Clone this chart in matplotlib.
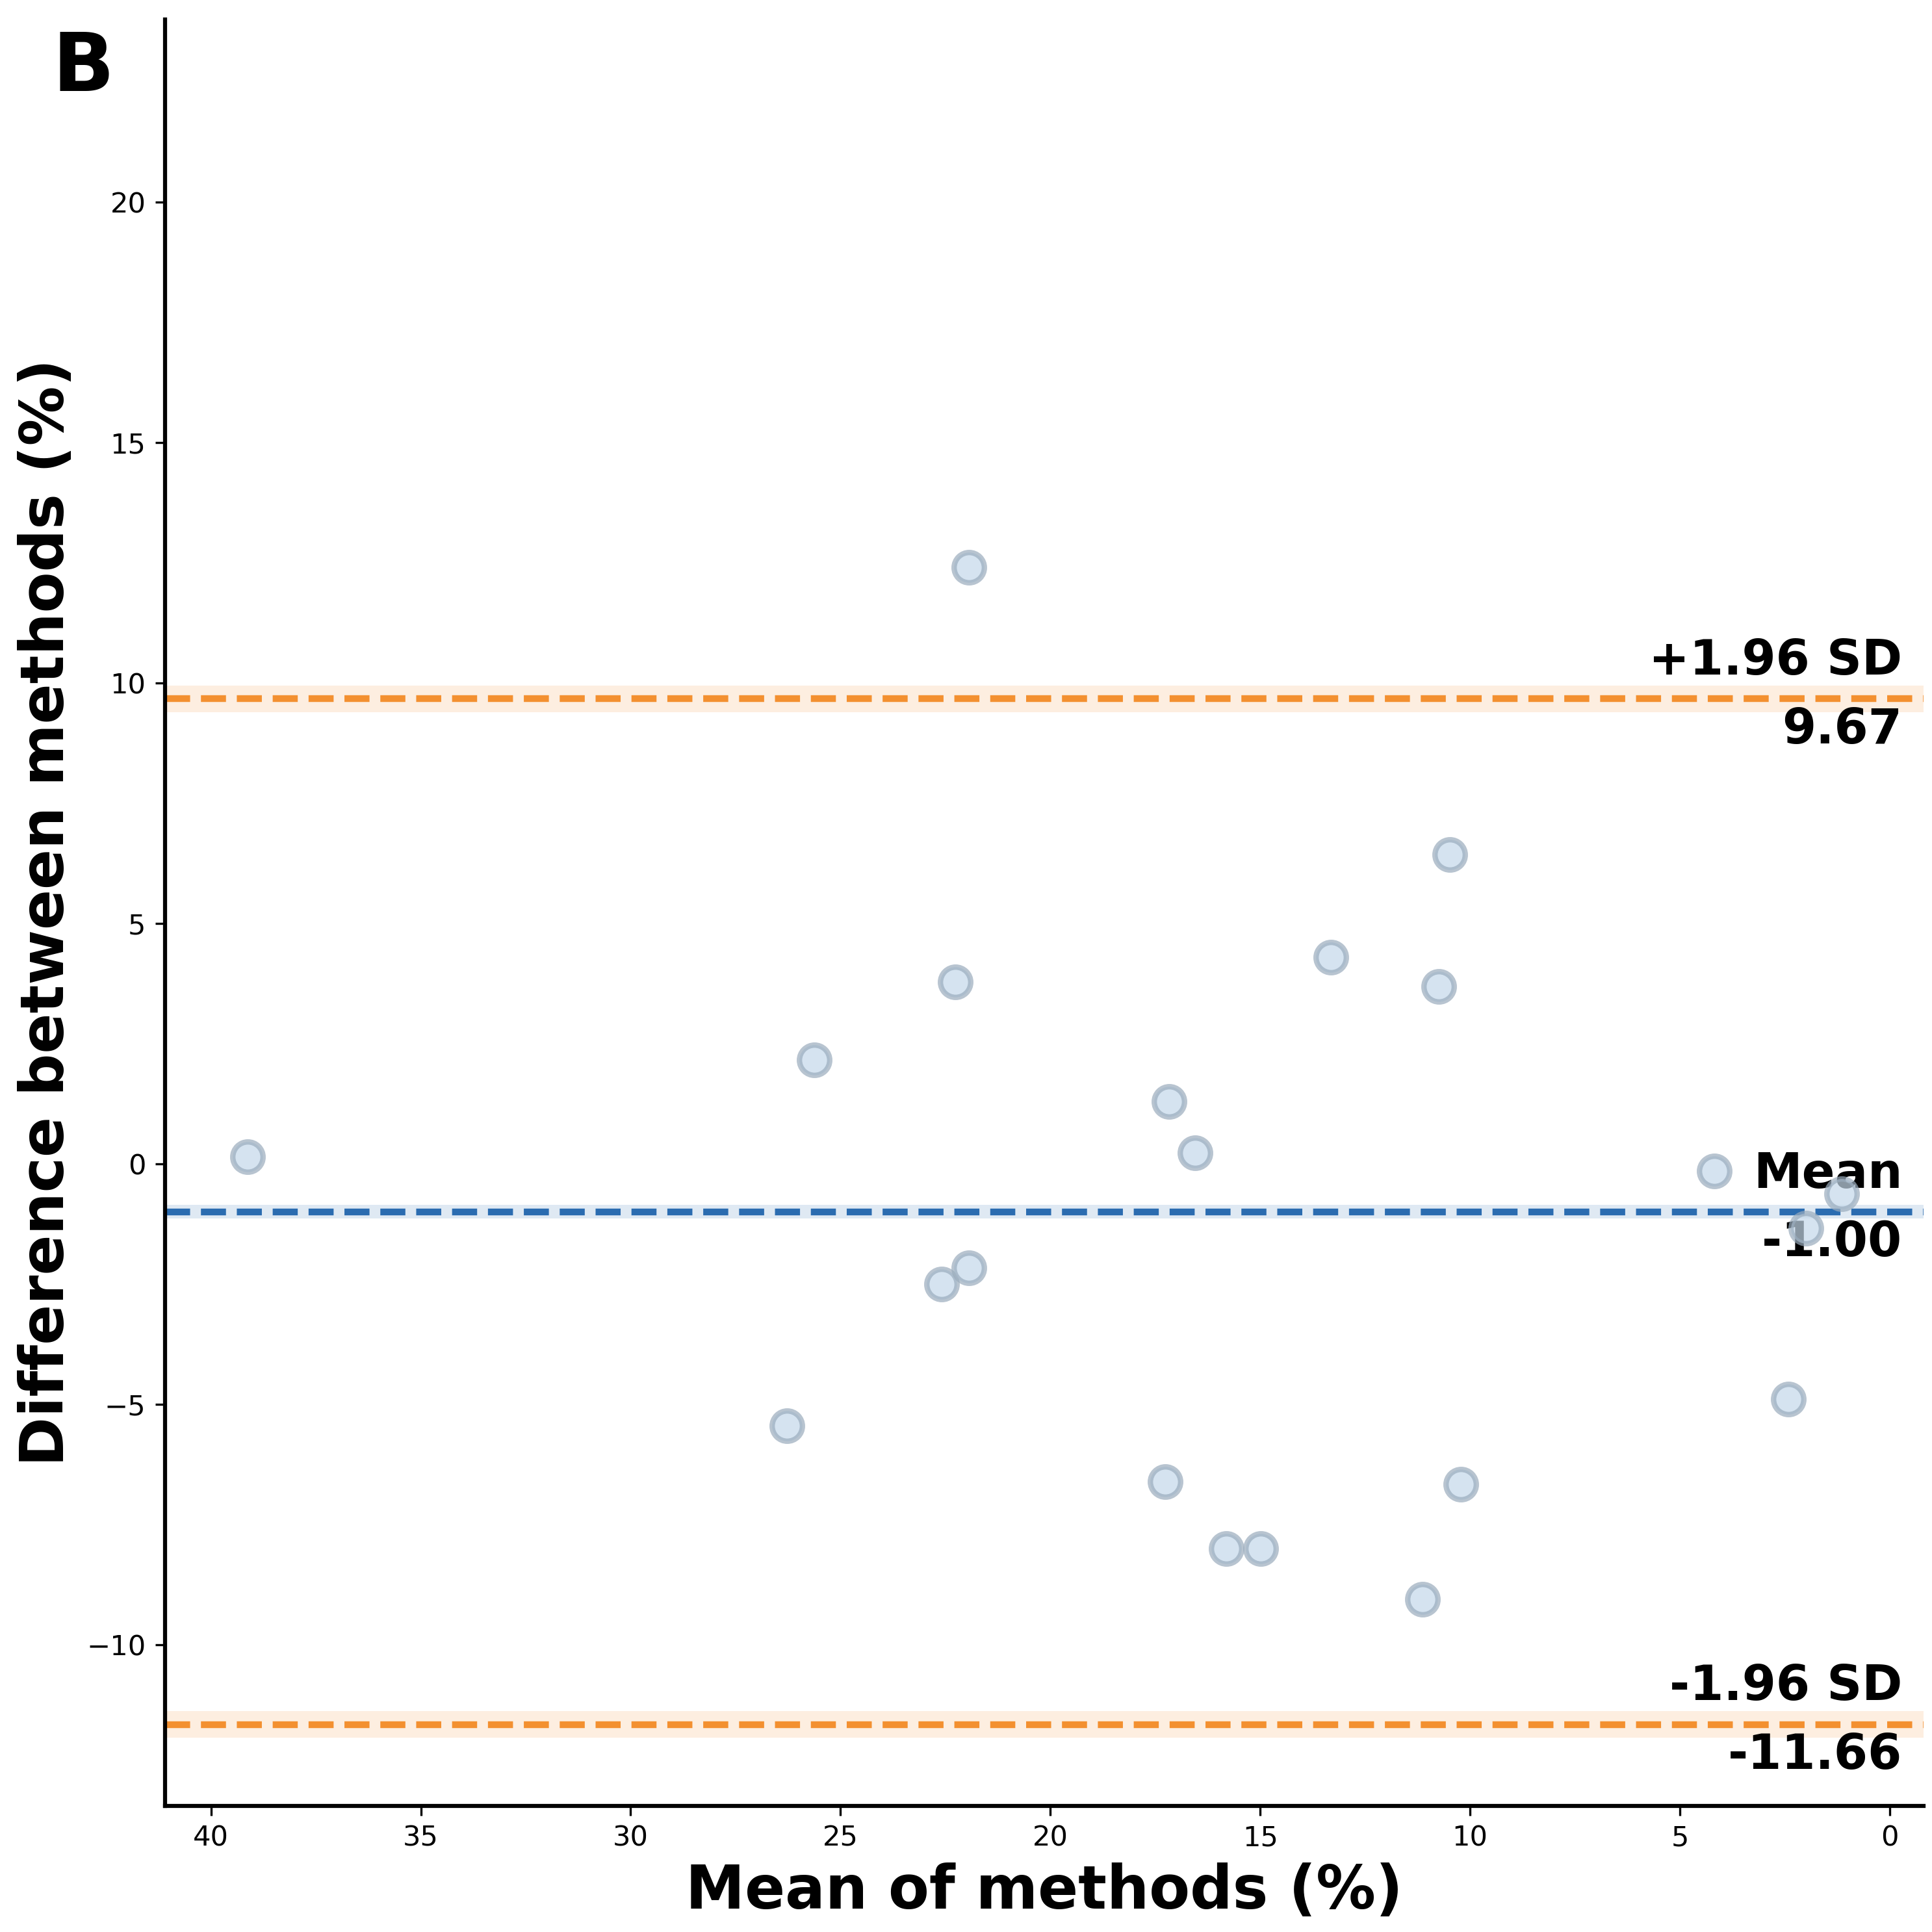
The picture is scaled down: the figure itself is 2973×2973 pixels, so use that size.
import numpy as np
import matplotlib
matplotlib.use('Agg')
import matplotlib.pyplot as plt
import matplotlib.transforms as mtransforms

# Bland-Altman data
mean_of_methods = [39.13, 25.62, 26.27, 21.94, 22.26, 22.59, 21.94, 17.17, 16.55,
                   17.26, 15.81, 14.99, 13.31, 10.48, 10.75, 10.22, 11.13, 4.18,
                   2.41, 2.00, 1.15]
diff_of_methods = [0.15, 2.16, -5.45, 12.40, 3.78, -2.50, -2.16, 1.29, 0.23,
                   -6.61, -8.00, -8.00, 4.30, 6.43, 3.68, -6.66, -9.06, -0.15,
                   -4.89, -1.34, -0.62]

# reference lines (value shown on the chart) and half-width of their shaded CI band
line_names = ['+1.96 SD', 'Mean', '-1.96 SD']
line_values = [9.67, -1.00, -11.66]
line_ci = [0.28, 0.14, 0.28]
line_colors = ['#f39030', '#2b6cb0', '#f39030']

fig = plt.figure(figsize=(2973 / 300, 2973 / 300), dpi=300)
ax = fig.add_axes([0.0853, 0.0654, 0.9102, 0.9246])

trans = mtransforms.blended_transform_factory(ax.transAxes, ax.transData)
for name, val, ci, col in zip(line_names, line_values, line_ci, line_colors):
    ax.axhspan(val - ci, val + ci, color=col, alpha=0.15, lw=0, zorder=1)
    ax.axhline(val, color=col, lw=2.5, ls='--', zorder=2)

    ax.annotate(name, xy=(0.988, val), xycoords=trans, xytext=(0, 8.9),
                textcoords='offset points', ha='right', va='baseline',
                fontsize=18, fontweight='bold', zorder=3)
    ax.annotate('%.2f' % val, xy=(0.988, val), xycoords=trans, xytext=(0, -16.4),
                textcoords='offset points', ha='right', va='baseline',
                fontsize=18, fontweight='bold', zorder=3)

ax.scatter(mean_of_methods, diff_of_methods, s=125, facecolor='#c4d8ea',
           edgecolor='#9aacbd', linewidths=2.0, alpha=0.7, zorder=4)

ax.set_xlim(41.1, -0.8)
ax.set_ylim(-13.35, 23.8)
ax.set_xticks([40, 35, 30, 25, 20, 15, 10, 5, 0])
ax.set_yticks([-10, -5, 0, 5, 10, 15, 20])
ax.tick_params(labelsize=10.4, width=0.8, length=3.5)

ax.spines['top'].set_visible(False)
ax.spines['right'].set_visible(False)
ax.spines['left'].set_linewidth(1.5)
ax.spines['bottom'].set_linewidth(1.5)

ax.set_xlabel('Mean of methods (%)', fontsize=22, fontweight='bold', labelpad=4)
ax.set_ylabel('Difference between methods (%)', fontsize=22, fontweight='bold', labelpad=4)

fig.text(0.027, 0.953, 'B', fontsize=30, fontweight='bold', va='baseline')

fig.savefig('out.png', dpi=300)
